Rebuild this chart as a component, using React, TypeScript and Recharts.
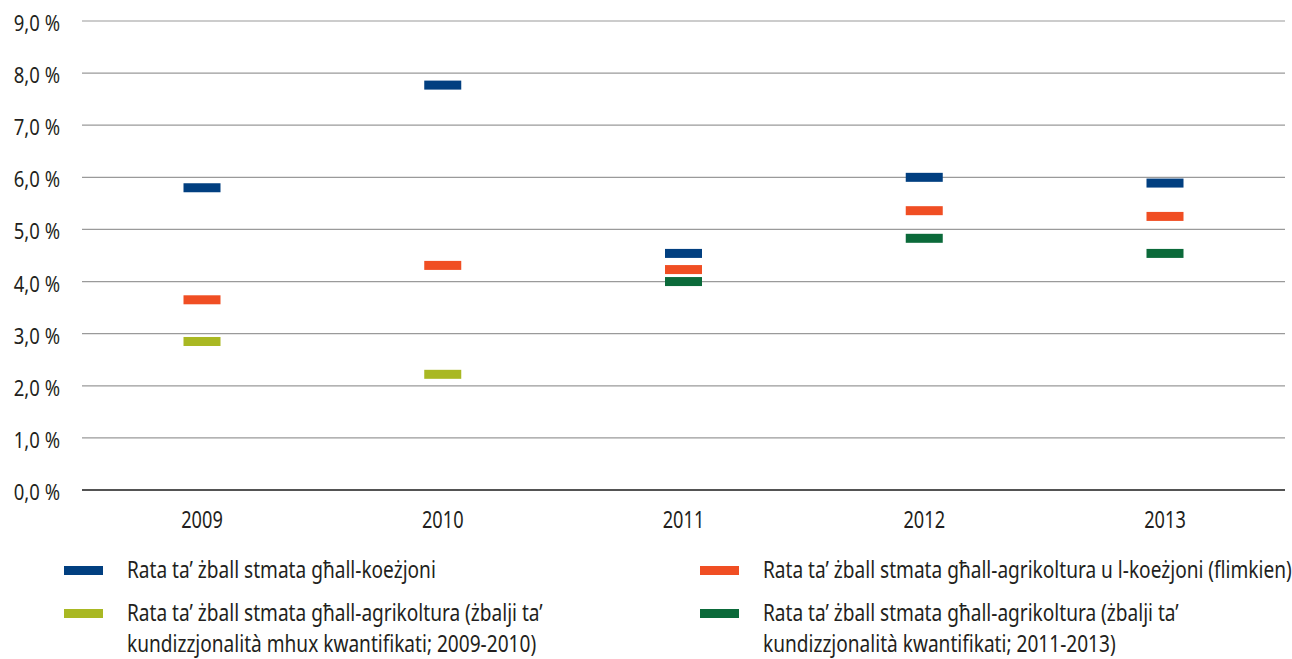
import React from 'react';
import { ComposedChart, Scatter, XAxis, YAxis, CartesianGrid } from 'recharts';

const years = ['2009', '2010', '2011', '2012', '2013'];
const cohesion = [5.8, 7.77, 4.54, 6.0, 5.89];
const agriCohesion = [3.65, 4.31, 4.23, 5.36, 5.25];
const agriNonQuant = [2.85, 2.22, null, null, null];
const agriQuant = [null, null, 4.0, 4.83, 4.54];
const yTicks = [0, 1, 2, 3, 4, 5, 6, 7, 8, 9];

const legendLines = [
  ['Rata ta’ żball stmata għall-koeżjoni'],
  ['Rata ta’ żball stmata għall-agrikoltura u l-koeżjoni (flimkien)'],
  ['Rata ta’ żball stmata għall-agrikoltura (żbalji ta’', 'kundizzjonalità mhux kwantifikati; 2009-2010)'],
  ['Rata ta’ żball stmata għall-agrikoltura (żbalji ta’', 'kundizzjonalità kwantifikati; 2011-2013)'],
];
const colors = ['#013F80', '#F04E23', '#A9B823', '#0B6A3A'];

const data = years.map((y, i) => ({
  year: y,
  s0: cohesion[i],
  s1: agriCohesion[i],
  s2: agriNonQuant[i],
  s3: agriQuant[i],
}));

const FONT = "'Noto Sans', 'DejaVu Sans', sans-serif";
const TEXT = '#231f20';

const makeShape = (color: string) => (props: any) => {
  const { cx, cy } = props;
  if (cx == null || cy == null || !isFinite(cx) || !isFinite(cy)) return <g />;
  return <rect x={cx - 18.5} y={cy - 4.5} width={37} height={9} fill={color} />;
};

const fmt = (v: number) => `${v.toFixed(1).replace('.', ',')} %`;

const XTick = (props: any) => {
  const { x, y, payload } = props;
  return (
    <g transform={`translate(${x},${y + 38}) scale(0.79,1)`}>
      <text x={0} y={0} textAnchor="middle" fontFamily={FONT} fontSize={23} fill={TEXT}>
        {payload.value}
      </text>
    </g>
  );
};

const YTick = (props: any) => {
  const { x, y, payload } = props;
  return (
    <g transform={`translate(${x - 22},${y + 10}) scale(0.88,1)`}>
      <text x={0} y={0} textAnchor="end" fontFamily={FONT} fontSize={21} fill={TEXT}>
        {fmt(payload.value)}
      </text>
    </g>
  );
};

const LegendItem = ({ color, lines, left, top }: { color: string; lines: string[]; left: number; top: number }) => (
  <div style={{ position: 'absolute', left, top, fontFamily: FONT, fontSize: 24, color: TEXT, lineHeight: '31px' }}>
    <div style={{ position: 'absolute', left: 0, top: 13, width: 39, height: 9, background: color }} />
    <div style={{ position: 'absolute', left: 63, top: 0, whiteSpace: 'nowrap', transform: 'scaleX(0.795)', transformOrigin: '0 0' }}>
      {lines.map((l, i) => (
        <div key={i}>{l}</div>
      ))}
    </div>
  </div>
);

export default function App() {
  return (
    <div style={{ position: 'absolute', left: 0, top: 0, width: 1292, height: 659, background: '#fff', overflow: 'hidden' }}>
      <ComposedChart width={1292} height={545} data={data} margin={{ top: 21, right: 7, left: 0, bottom: 0 }}>
        <CartesianGrid vertical={false} stroke="#9a9a9a" strokeWidth={1.2} />
        <XAxis
          dataKey="year"
          type="category"
          allowDuplicatedCategory={false}
          padding={{ left: 120, right: 120 }}
          axisLine={{ stroke: '#2b2b2b', strokeWidth: 1.5 }}
          tickLine={false}
          tickSize={0}
          tickMargin={0}
          height={55}
          tick={<XTick />}
        />
        <YAxis
          type="number"
          domain={[0, 9]}
          ticks={yTicks}
          axisLine={false}
          tickLine={false}
          tickSize={0}
          tickMargin={0}
          width={82}
          tick={<YTick />}
        />
        {['s0', 's1', 's2', 's3'].map((k, i) => (
          <Scatter key={k} dataKey={k} fill={colors[i]} isAnimationActive={false} shape={makeShape(colors[i])} />
        ))}
      </ComposedChart>
      <LegendItem color={colors[0]} lines={legendLines[0]} left={64} top={553} />
      <LegendItem color={colors[1]} lines={legendLines[1]} left={700} top={553} />
      <LegendItem color={colors[2]} lines={legendLines[2]} left={64} top={596} />
      <LegendItem color={colors[3]} lines={legendLines[3]} left={700} top={596} />
    </div>
  );
}
